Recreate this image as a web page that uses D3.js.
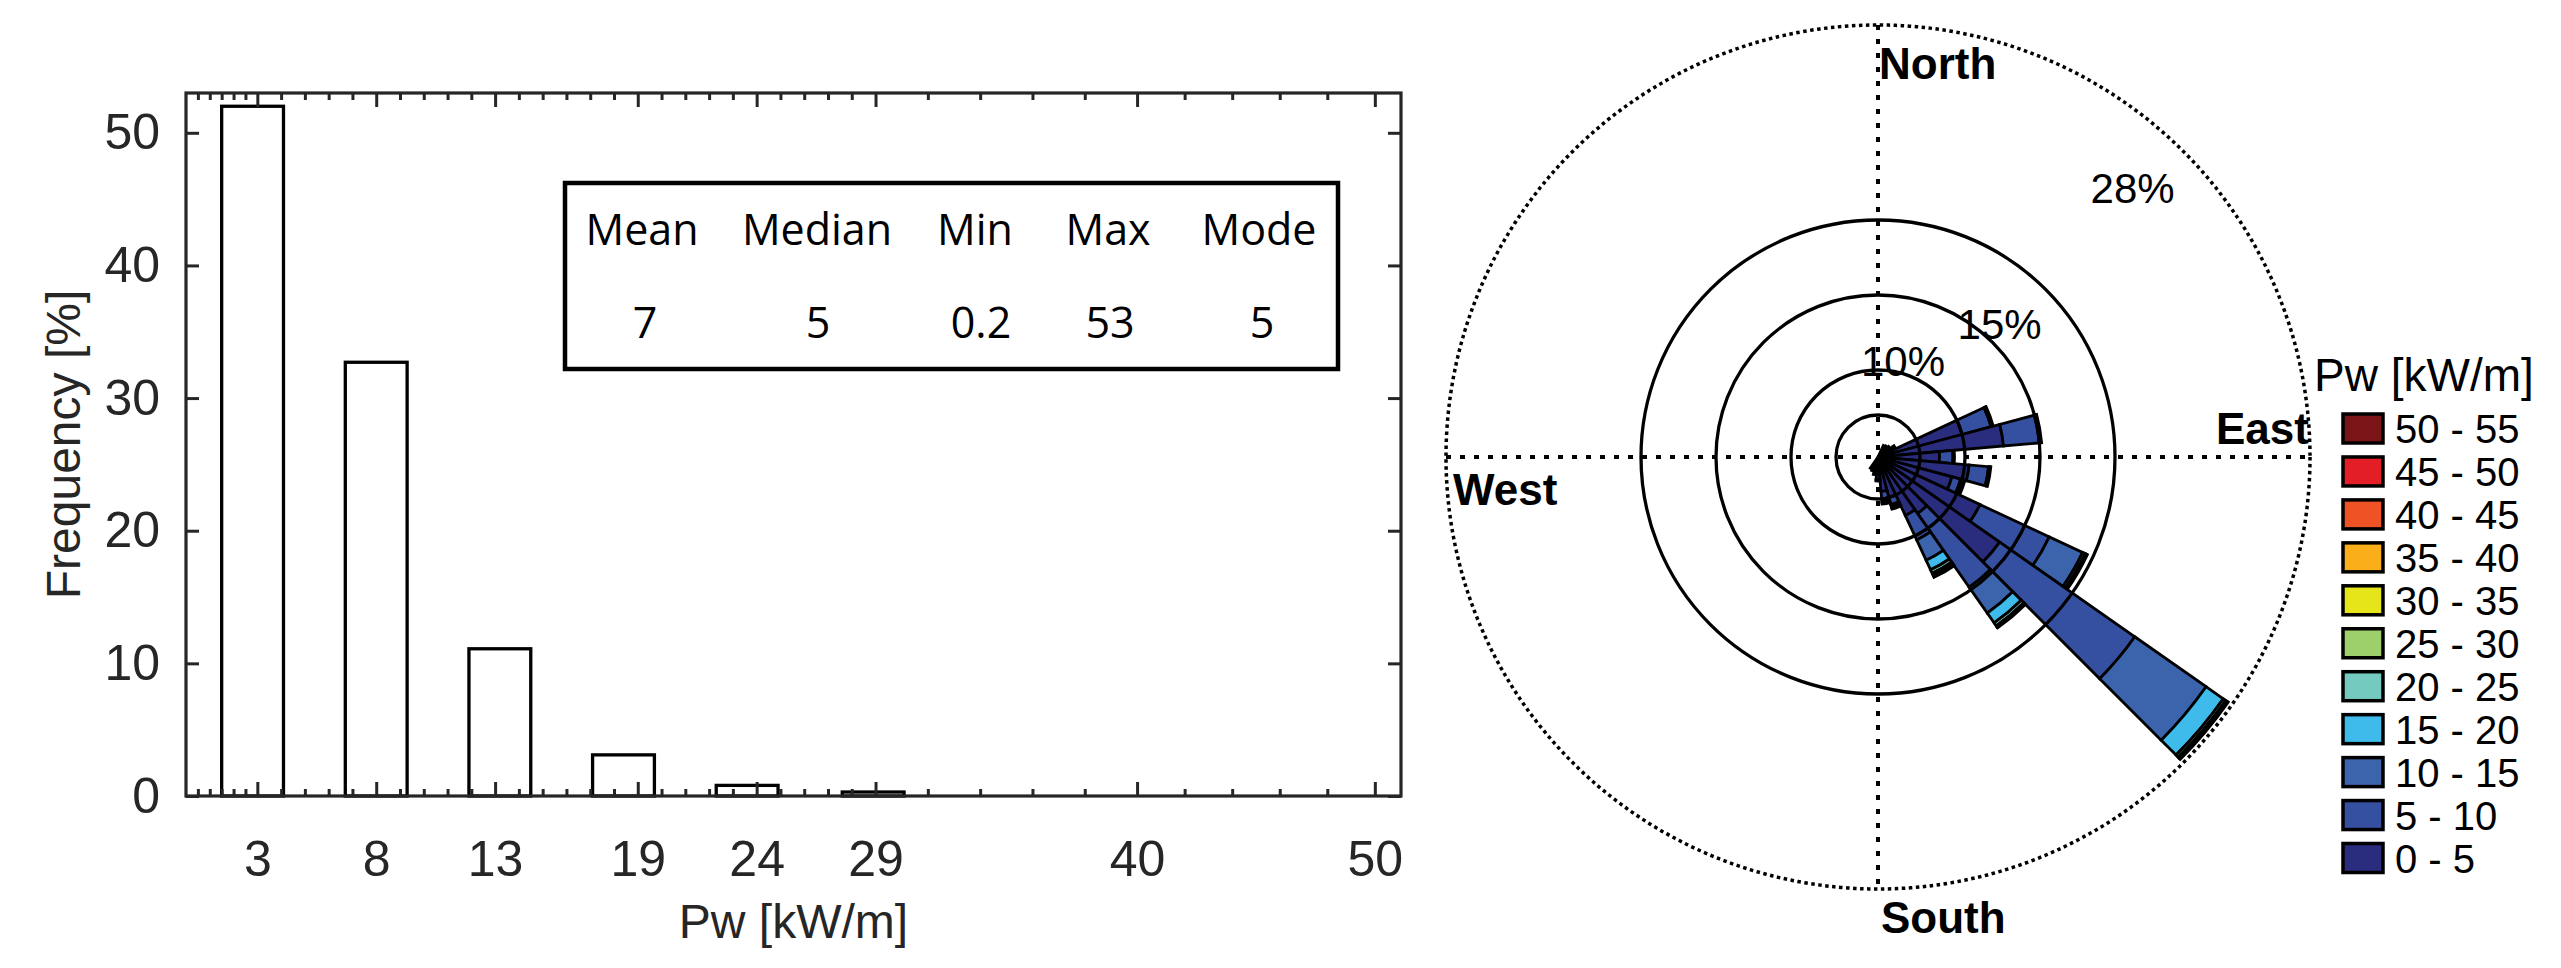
<!DOCTYPE html>
<html><head><meta charset="utf-8">
<script src="https://cdn.jsdelivr.net/npm/d3@7"></script>
<style>
html,body{margin:0;padding:0;background:#fff;}
svg{display:block;}
text{font-family:"Liberation Sans",Arial,sans-serif;}
</style></head>
<body>
<svg id="chart" width="2561" height="968"></svg>
<script>
// ================= DATA =================
// Histogram of wave power
const binCenters  = [2.8, 8.0, 13.2, 18.4, 23.6, 28.9];
const frequencies = [52.0, 32.7, 11.1, 3.1, 0.8, 0.3];
const binWidth = 5.2;
const xTickValues = [3, 8, 13, 19, 24, 29, 40, 50];
const xMinorTicks = [0.5,1,1.5,2,2.5,4,5,6,7,9,10,11,12,14,15,16,17,18,20,21,22,23,25,26,27,28,31.2,33.4,35.6,37.8,42,44,46,48];
const yTickValues = [0, 10, 20, 30, 40, 50];
const statNames  = ["Mean", "Median", "Min", "Max", "Mode"];
const statValues = ["7", "5", "0.2", "53", "5"];

// Wind-rose (directional wave power) — 36 directions, 10° each
const directions = [0,10,20,30,40,50,60,70,80,90,100,110,120,130,140,150,160,170,
                    180,190,200,210,220,230,240,250,260,270,280,290,300,310,320,330,340,350];
const speedBins = ["0 - 5","5 - 10","10 - 15","15 - 20","20 - 25","25 - 30","30 - 35","35 - 40","40 - 45","45 - 50","50 - 55"];
const binColors = ["#2a2c7e","#3550a0","#3c64ad","#3ebbea","#75cabf","#9dcf6b","#e5e51a","#f9ae1a","#ef5225","#e31e26","#7b1416"];
//                 0    10   20   30    40   50   60   70   80   90   100  110  120  130  140  150  160  170  180  190  200  210 220..350
const f0_5   = [0,   0,   0,   0.05, 0.1, 0.2, 0.4, 5.0, 7.6, 3.3, 5.3, 4.3, 6.7, 9.1, 3.8, 3.5, 2.0, 1.5, 0.7, 0.4, 0.2, 0.1, 0,0,0,0,0,0,0,0,0,0,0,0,0,0];
const f5_10  = [0,   0,   0,   0,    0,   0,   0.1, 2.0, 2.4, 0.9, 1.3, 0.6, 5.1, 11.0,6.0, 1.8, 0.5, 0.5, 0.1, 0,   0,   0,   0,0,0,0,0,0,0,0,0,0,0,0,0,0];
const f10_15 = [0,   0,   0,   0,    0,   0,   0,   0.1, 0.1, 0.1, 0.1, 0.2, 2.45,5.8, 2.1, 1.5, 0.2, 0.2, 0,   0,   0,   0,   0,0,0,0,0,0,0,0,0,0,0,0,0,0];
const f15_20 = [0,   0,   0,   0,    0,   0,   0,   0.05,0.05,0,   0.05,0.1, 0.2, 1.4, 0.8, 0.7, 0.1, 0.1, 0,   0,   0,   0,   0,0,0,0,0,0,0,0,0,0,0,0,0,0];
const f20_25 = [0,   0,   0,   0,    0,   0,   0,   0,   0,   0,   0,   0,   0.1, 0.2, 0.25,0.25,0,   0.05,0,   0,   0,   0,   0,0,0,0,0,0,0,0,0,0,0,0,0,0];
const f25_30 = [0,   0,   0,   0,    0,   0,   0,   0,   0,   0,   0,   0,   0.05,0.1, 0.1, 0.15,0,   0,   0,   0,   0,   0,   0,0,0,0,0,0,0,0,0,0,0,0,0,0];
const f30_35 = [0,   0,   0,   0,    0,   0,   0,   0,   0,   0,   0,   0,   0,   0.05,0.05,0.1, 0,   0,   0,   0,   0,   0,   0,0,0,0,0,0,0,0,0,0,0,0,0,0];
const f35_40 = [0,   0,   0,   0,    0,   0,   0,   0,   0,   0,   0,   0,   0,   0.05,0,   0.05,0,   0,   0,   0,   0,   0,   0,0,0,0,0,0,0,0,0,0,0,0,0,0];
const f40_45 = new Array(36).fill(0);
const f45_50 = new Array(36).fill(0);
const f50_55 = new Array(36).fill(0);
const roseBins = [f0_5, f5_10, f10_15, f15_20, f20_25, f25_30, f30_35, f35_40, f40_45, f45_50, f50_55];
const ringValues = [2, 5, 10, 15];
const outerValue = 28;
const ringLabels = [{text:"10%", value:5.8, bearing:14.6},
                    {text:"15%", value:11.2, bearing:42.5},
                    {text:"28%", value:23.9, bearing:43.4}];

// ================= LEFT: HISTOGRAM =================
const svg = d3.select("#chart");
const axisColor = "#262626";
const L = {left:186, right:1401, top:93, bottom:796};
const x = d3.scaleLinear().domain([0, 51.1]).range([L.left, L.right]);
const y = d3.scaleLinear().domain([0, 53]).range([L.bottom, L.top]);

const gL = svg.append("g");

// bars
gL.selectAll("rect.bar").data(binCenters).join("rect")
  .attr("class","bar")
  .attr("x", d => x(d - binWidth/4))
  .attr("width", d => x(d + binWidth/4) - x(d - binWidth/4))
  .attr("y", (d,i) => y(frequencies[i]))
  .attr("height", (d,i) => y(0) - y(frequencies[i]))
  .attr("fill","#fff").attr("stroke","#000").attr("stroke-width",3.3);

function styleAxis(g){
  g.select(".domain").remove();
  g.selectAll(".tick line").attr("stroke",axisColor).attr("stroke-width",3);
  g.selectAll(".tick text").attr("fill",axisColor)
    .style("font-family",'"Liberation Sans",Arial,sans-serif').style("font-size","50px");
}
// bottom major
gL.append("g").attr("transform",`translate(0,${L.bottom})`)
  .call(d3.axisBottom(x).tickValues(xTickValues).tickFormat(d3.format("d")).tickSize(-14).tickPadding(44))
  .call(styleAxis);
// bottom minor
gL.append("g").attr("transform",`translate(0,${L.bottom})`)
  .call(d3.axisBottom(x).tickValues(xMinorTicks).tickFormat("").tickSize(-7))
  .call(styleAxis);
// top major + minor
gL.append("g").attr("transform",`translate(0,${L.top})`)
  .call(d3.axisTop(x).tickValues(xTickValues).tickFormat("").tickSize(-14))
  .call(styleAxis);
gL.append("g").attr("transform",`translate(0,${L.top})`)
  .call(d3.axisTop(x).tickValues(xMinorTicks).tickFormat("").tickSize(-7))
  .call(styleAxis);
// left
gL.append("g").attr("transform",`translate(${L.left},0)`)
  .call(d3.axisLeft(y).tickValues(yTickValues).tickSize(-13).tickPadding(26))
  .call(styleAxis);
// right
gL.append("g").attr("transform",`translate(${L.right},0)`)
  .call(d3.axisRight(y).tickValues(yTickValues).tickFormat("").tickSize(-13))
  .call(styleAxis);
// frame
gL.append("rect").attr("x",L.left).attr("y",L.top)
  .attr("width",L.right-L.left).attr("height",L.bottom-L.top)
  .attr("fill","none").attr("stroke",axisColor).attr("stroke-width",3.2);

// axis titles
gL.append("text").attr("x",(L.left+L.right)/2).attr("y",938)
  .attr("text-anchor","middle").attr("fill",axisColor).style("font-size","48px")
  .text("Pw [kW/m]");
gL.append("text").attr("transform",`translate(80,${(L.top+L.bottom)/2}) rotate(-90)`)
  .attr("text-anchor","middle").attr("fill",axisColor).style("font-size","48px")
  .text("Frequency [%]");

// stats box
const statBox = {x:565, y:183, w:773, h:186};
const statCols = [642, 817, 975, 1108, 1259];
const valCols  = [645, 818, 981, 1110, 1262];
gL.append("rect").attr("x",statBox.x).attr("y",statBox.y).attr("width",statBox.w).attr("height",statBox.h)
  .attr("fill","#fff").attr("stroke","#000").attr("stroke-width",4.5);
gL.selectAll("text.sname").data(statNames).join("text").attr("class","sname")
  .attr("x",(d,i)=>statCols[i]).attr("y",245).attr("text-anchor","middle")
  .style("font-family",'"Open Sans",sans-serif').style("font-size","43px").attr("fill","#000").text(d=>d);
gL.selectAll("text.sval").data(statValues).join("text").attr("class","sval")
  .attr("x",(d,i)=>valCols[i]).attr("y",338).attr("text-anchor","middle")
  .style("font-family",'"Open Sans",sans-serif').style("font-size","43px").attr("fill","#000").text(d=>d);

// ================= RIGHT: WIND ROSE =================
const C = {x:1878, y:457};
const r = d3.scaleLinear().domain([0, outerValue]).range([12, 432]);
const R = r(outerValue);
const gR = svg.append("g").attr("transform",`translate(${C.x},${C.y})`);

// dotted cross
gR.append("line").attr("x1",-R).attr("x2",R).attr("y1",0).attr("y2",0)
  .attr("stroke","#000").attr("stroke-width",4).attr("stroke-dasharray","5,9");
gR.append("line").attr("y1",-R).attr("y2",R).attr("x1",0).attr("x2",0)
  .attr("stroke","#000").attr("stroke-width",4).attr("stroke-dasharray","5,9");
// outer dotted circle
gR.append("circle").attr("r",R).attr("fill","none").attr("stroke","#000")
  .attr("stroke-width",3.5).attr("stroke-dasharray","3.5,3.5");

// petals
const arc = d3.arc();
const segs = [];
directions.forEach((dir, di) => {
  let cum = 0;
  roseBins.forEach((bin, bi) => {
    const v = bin[di];
    if (!(v > 0)) return;
    const inner = cum === 0 ? 0 : r(cum);
    cum += v;
    segs.push({dir, bi, inner, outer: r(cum)});
  });
});
gR.selectAll("path.petal").data(segs).join("path").attr("class","petal")
  .attr("d", s => arc({innerRadius:s.inner, outerRadius:s.outer,
                       startAngle:(s.dir-5)*Math.PI/180, endAngle:(s.dir+5)*Math.PI/180}))
  .attr("fill", s => binColors[s.bi]).attr("stroke","#000").attr("stroke-width",2.8)
  .attr("stroke-linejoin","miter");

// solid rings
gR.selectAll("circle.ring").data(ringValues).join("circle").attr("class","ring")
  .attr("r", d => r(d)).attr("fill","none").attr("stroke","#000").attr("stroke-width",3.3);

// ring labels
gR.selectAll("text.rl").data(ringLabels).join("text").attr("class","rl")
  .attr("x", d => r(d.value)*Math.sin(d.bearing*Math.PI/180))
  .attr("y", d => -r(d.value)*Math.cos(d.bearing*Math.PI/180))
  .attr("dy","0.36em").attr("text-anchor","middle")
  .style("font-size","42px").attr("fill","#000").text(d=>d.text);

// compass labels
const compass = [{t:"North", dx:1, dy:-378}, {t:"South", dx:3, dy:476},
                 {t:"West", dx:-425, dy:48}, {t:"East", dx:338, dy:-13}];
gR.selectAll("text.cmp").data(compass).join("text").attr("class","cmp")
  .attr("x", d=>d.dx).attr("y", d=>d.dy)
  .style("font-size","44px").style("font-weight","bold").attr("fill","#000").text(d=>d.t);

// legend
const gLeg = svg.append("g");
gLeg.append("text").attr("x",2314).attr("y",391).style("font-size","46px").attr("fill","#000").text("Pw [kW/m]");
const legOrder = d3.range(speedBins.length).reverse();
const legY = d3.scalePoint().domain(legOrder).range([428.5, 858]);
gLeg.selectAll("rect.lg").data(legOrder).join("rect").attr("class","lg")
  .attr("x",2343).attr("y", d => legY(d) - 14.5).attr("width",40).attr("height",29)
  .attr("fill", d => binColors[d]).attr("stroke","#000").attr("stroke-width",3.5);
gLeg.selectAll("text.lg").data(legOrder).join("text").attr("class","lg")
  .attr("x",2395).attr("y", d => legY(d) + 14.5)
  .style("font-size","40px").attr("fill","#000").text(d => speedBins[d]);
</script>
</body></html>
